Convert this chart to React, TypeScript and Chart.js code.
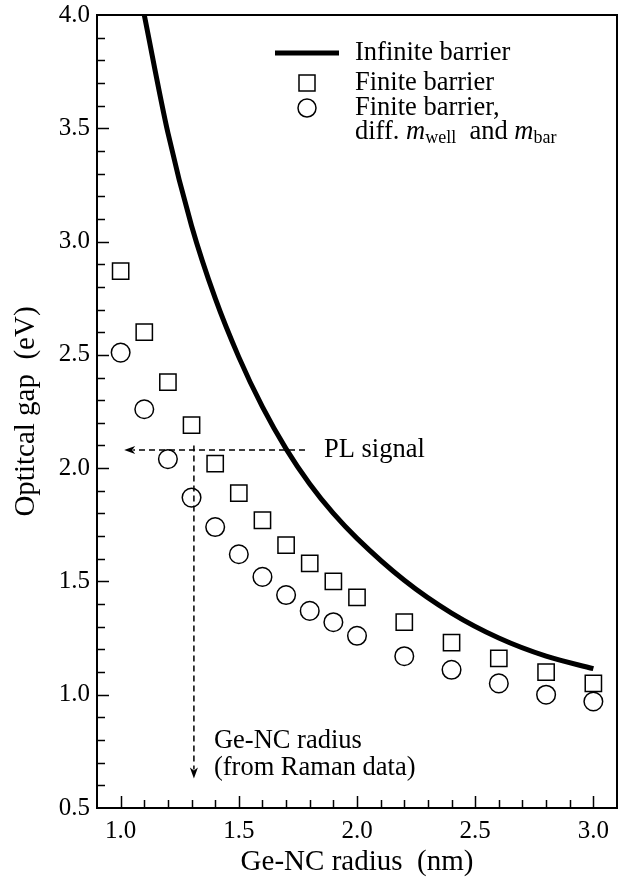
import React, { useEffect, useRef } from "react";
import { Chart, registerables } from "chart.js";

Chart.register(...registerables);

// ---- data ----
const radiusFinite = [1.0, 1.1, 1.2, 1.3, 1.4, 1.5, 1.6, 1.7, 1.8, 1.9, 2.0, 2.2, 2.4, 2.6, 2.8, 3.0];
const gapFinite = [2.87, 2.60, 2.38, 2.19, 2.02, 1.89, 1.77, 1.66, 1.58, 1.50, 1.43, 1.32, 1.23, 1.16, 1.10, 1.05];
const gapFiniteDiffMass = [2.51, 2.26, 2.04, 1.87, 1.74, 1.62, 1.52, 1.44, 1.37, 1.32, 1.26, 1.17, 1.11, 1.05, 1.00, 0.97];

const radiusInfinite = [1.10, 1.20, 1.30, 1.40, 1.50, 1.60, 1.70, 1.80, 1.90, 2.00, 2.20, 2.40, 2.60, 2.80, 3.00];
const gapInfinite = [4.00, 3.48, 3.07, 2.75, 2.49, 2.27, 2.085, 1.93, 1.80, 1.69, 1.505, 1.36, 1.25, 1.17, 1.115];

// annotation values
const PL_GAP = 2.08;
const PL_X_FROM = 1.78;
const PL_X_TO = 1.015;
const RAMAN_RADIUS = 1.31;
const RAMAN_Y_FROM = 2.1;
const RAMAN_Y_TO = 0.63;

const X_MIN = 0.9;
const X_MAX = 3.1;
const Y_MIN = 0.5;
const Y_MAX = 4.0;

const FONT = '"Liberation Serif", "Times New Roman", serif';
const TEXT_SIZE = 26.5;

const toPoints = (xs: number[], ys: number[]) => xs.map((x, i) => ({ x, y: ys[i] }));

const decorPlugin = {
  id: "decor",
  afterDatasetsDraw(chart: any) {
    const { ctx, scales } = chart;
    const x = scales.x;
    const y = scales.y;
    ctx.save();
    ctx.strokeStyle = "#000";
    ctx.fillStyle = "#000";
    ctx.lineWidth = 1.5;
    ctx.setLineDash([6, 4]);

    // horizontal PL arrow
    const py = y.getPixelForValue(PL_GAP);
    const hx0 = x.getPixelForValue(PL_X_FROM);
    const hx1 = x.getPixelForValue(PL_X_TO);
    ctx.beginPath();
    ctx.moveTo(hx0, py);
    ctx.lineTo(hx1 + 9, py);
    ctx.stroke();

    // vertical Raman arrow
    const vx = x.getPixelForValue(RAMAN_RADIUS);
    const vy0 = y.getPixelForValue(RAMAN_Y_FROM);
    const vy1 = y.getPixelForValue(RAMAN_Y_TO);
    ctx.beginPath();
    ctx.moveTo(vx, vy0);
    ctx.lineTo(vx, vy1 - 9);
    ctx.stroke();

    ctx.setLineDash([]);
    // arrowheads
    ctx.beginPath();
    ctx.moveTo(hx1, py);
    ctx.lineTo(hx1 + 11, py - 4);
    ctx.lineTo(hx1 + 8, py);
    ctx.lineTo(hx1 + 11, py + 4);
    ctx.closePath();
    ctx.fill();

    ctx.beginPath();
    ctx.moveTo(vx, vy1);
    ctx.lineTo(vx - 4, vy1 - 11);
    ctx.lineTo(vx, vy1 - 8);
    ctx.lineTo(vx + 4, vy1 - 11);
    ctx.closePath();
    ctx.fill();

    // annotation text
    ctx.font = `${TEXT_SIZE}px ${FONT}`;
    ctx.textBaseline = "middle";
    ctx.textAlign = "left";
    ctx.fillText("PL signal", hx0 + 19, py);
    ctx.fillText("Ge-NC radius", vx + 20, y.getPixelForValue(0.795));
    ctx.fillText("(from Raman data)", vx + 20, y.getPixelForValue(0.675));
    ctx.restore();
  },
  afterDraw(chart: any) {
    const { ctx, chartArea: ca, scales } = chart;
    const x = scales.x;
    const y = scales.y;
    ctx.save();
    ctx.strokeStyle = "#000";
    ctx.lineWidth = 2;
    ctx.strokeRect(ca.left, ca.top, ca.right - ca.left, ca.bottom - ca.top);

    // inward ticks, left axis
    ctx.lineWidth = 1.5;
    ctx.beginPath();
    for (let i = 1; i < 35; i++) {
      const v = Y_MIN + i * 0.1;
      const major = i % 5 === 0;
      const p = Math.round(y.getPixelForValue(v)) + 0.5;
      ctx.moveTo(ca.left, p);
      ctx.lineTo(ca.left + (major ? 12 : 8), p);
    }
    // inward ticks, bottom axis
    for (let i = 1; i < 22; i++) {
      const v = X_MIN + i * 0.1;
      const major = Math.abs(v * 2 - Math.round(v * 2)) < 1e-6;
      const p = Math.round(x.getPixelForValue(v)) + 0.5;
      ctx.moveTo(p, ca.bottom);
      ctx.lineTo(p, ca.bottom - (major ? 12 : 8));
    }
    ctx.stroke();

    // legend
    const lx = 275;
    const tx = 355;
    const rows = [53, 83, 108, 132];
    ctx.lineWidth = 5;
    ctx.beginPath();
    ctx.moveTo(lx, rows[0]);
    ctx.lineTo(lx + 64, rows[0]);
    ctx.stroke();
    ctx.lineWidth = 1.5;
    ctx.strokeRect(lx + 32 - 8, rows[1] - 8, 16, 16);
    ctx.beginPath();
    ctx.arc(lx + 32, rows[2], 9, 0, Math.PI * 2);
    ctx.stroke();

    ctx.fillStyle = "#000";
    ctx.textBaseline = "middle";
    ctx.textAlign = "left";
    ctx.font = `${TEXT_SIZE}px ${FONT}`;
    ctx.fillText("Infinite barrier", tx, rows[0]);
    ctx.fillText("Finite barrier", tx, rows[1]);
    ctx.fillText("Finite barrier,", tx, rows[2]);

    let cx = tx;
    const base = rows[3];
    const put = (t: string, font: string, dy: number) => {
      ctx.font = font;
      ctx.fillText(t, cx, base + dy);
      cx += ctx.measureText(t).width;
    };
    put("diff. ", `${TEXT_SIZE}px ${FONT}`, 0);
    put("m", `italic ${TEXT_SIZE}px ${FONT}`, 0);
    put("well", `18px ${FONT}`, 6);
    put("  and ", `${TEXT_SIZE}px ${FONT}`, 0);
    put("m", `italic ${TEXT_SIZE}px ${FONT}`, 0);
    put("bar", `18px ${FONT}`, 6);
    ctx.restore();
  },
};

export default function App() {
  const ref = useRef<HTMLCanvasElement | null>(null);

  useEffect(() => {
    if (!ref.current) return;
    const chart = new Chart(ref.current, {
      type: "scatter",
      data: {
        datasets: [
          {
            label: "Infinite barrier",
            type: "line",
            data: toPoints(radiusInfinite, gapInfinite),
            borderColor: "#000",
            borderWidth: 5,
            pointRadius: 0,
            cubicInterpolationMode: "monotone",
            fill: false,
            showLine: true,
          },
          {
            label: "Finite barrier",
            data: toPoints(radiusFinite, gapFinite),
            pointStyle: "rect",
            pointRadius: 11.5,
            pointBorderWidth: 1.5,
            borderColor: "#000",
            backgroundColor: "rgba(0,0,0,0)",
          },
          {
            label: "Finite barrier, diff. m_well and m_bar",
            data: toPoints(radiusFinite, gapFiniteDiffMass),
            pointStyle: "circle",
            pointRadius: 9.3,
            pointBorderWidth: 1.5,
            borderColor: "#000",
            backgroundColor: "rgba(0,0,0,0)",
          },
        ],
      },
      options: {
        animation: false,
        responsive: false,
        maintainAspectRatio: false,
        layout: { autoPadding: false, padding: { left: 0, top: 15, right: 7, bottom: 0 } },
        plugins: { legend: { display: false }, tooltip: { enabled: false } },
        scales: {
          x: {
            type: "linear",
            min: X_MIN,
            max: X_MAX,
            afterFit: (s: any) => {
              s.height = 70;
              s.paddingLeft = 0;
              s.paddingRight = 0;
            },
            grid: { display: false, drawTicks: true, tickLength: 8 },
            border: { display: false },
            ticks: {
              stepSize: 0.5,
              includeBounds: false,
              padding: 0,
              color: "#000",
              font: { family: FONT, size: 25 },
              callback: (v: any) => Number(v).toFixed(1),
            },
            title: {
              display: true,
              text: "Ge-NC radius  (nm)",
              color: "#000",
              font: { family: FONT, size: 29, lineHeight: 1.05 },
              padding: 0,
            },
          },
          y: {
            type: "linear",
            min: Y_MIN,
            max: Y_MAX,
            afterFit: (s: any) => {
              s.width = 97;
              s.paddingTop = 0;
              s.paddingBottom = 0;
            },
            grid: { display: false, drawTicks: true, tickLength: 7 },
            border: { display: false },
            ticks: {
              stepSize: 0.5,
              padding: 0,
              color: "#000",
              font: { family: FONT, size: 25 },
              callback: (v: any) => Number(v).toFixed(1),
            },
            title: {
              display: true,
              text: "Optitcal gap  (eV)",
              color: "#000",
              font: { family: FONT, size: 29 },
              padding: { top: 9, bottom: 0 },
            },
          },
        },
      },
      plugins: [decorPlugin],
    } as any);
    return () => chart.destroy();
  }, []);

  return (
    <div style={{ position: "absolute", left: 0, top: 0, width: 624, height: 878, background: "#fff" }}>
      <canvas ref={ref} width={624} height={878} style={{ width: 624, height: 878, display: "block" }} />
    </div>
  );
}
